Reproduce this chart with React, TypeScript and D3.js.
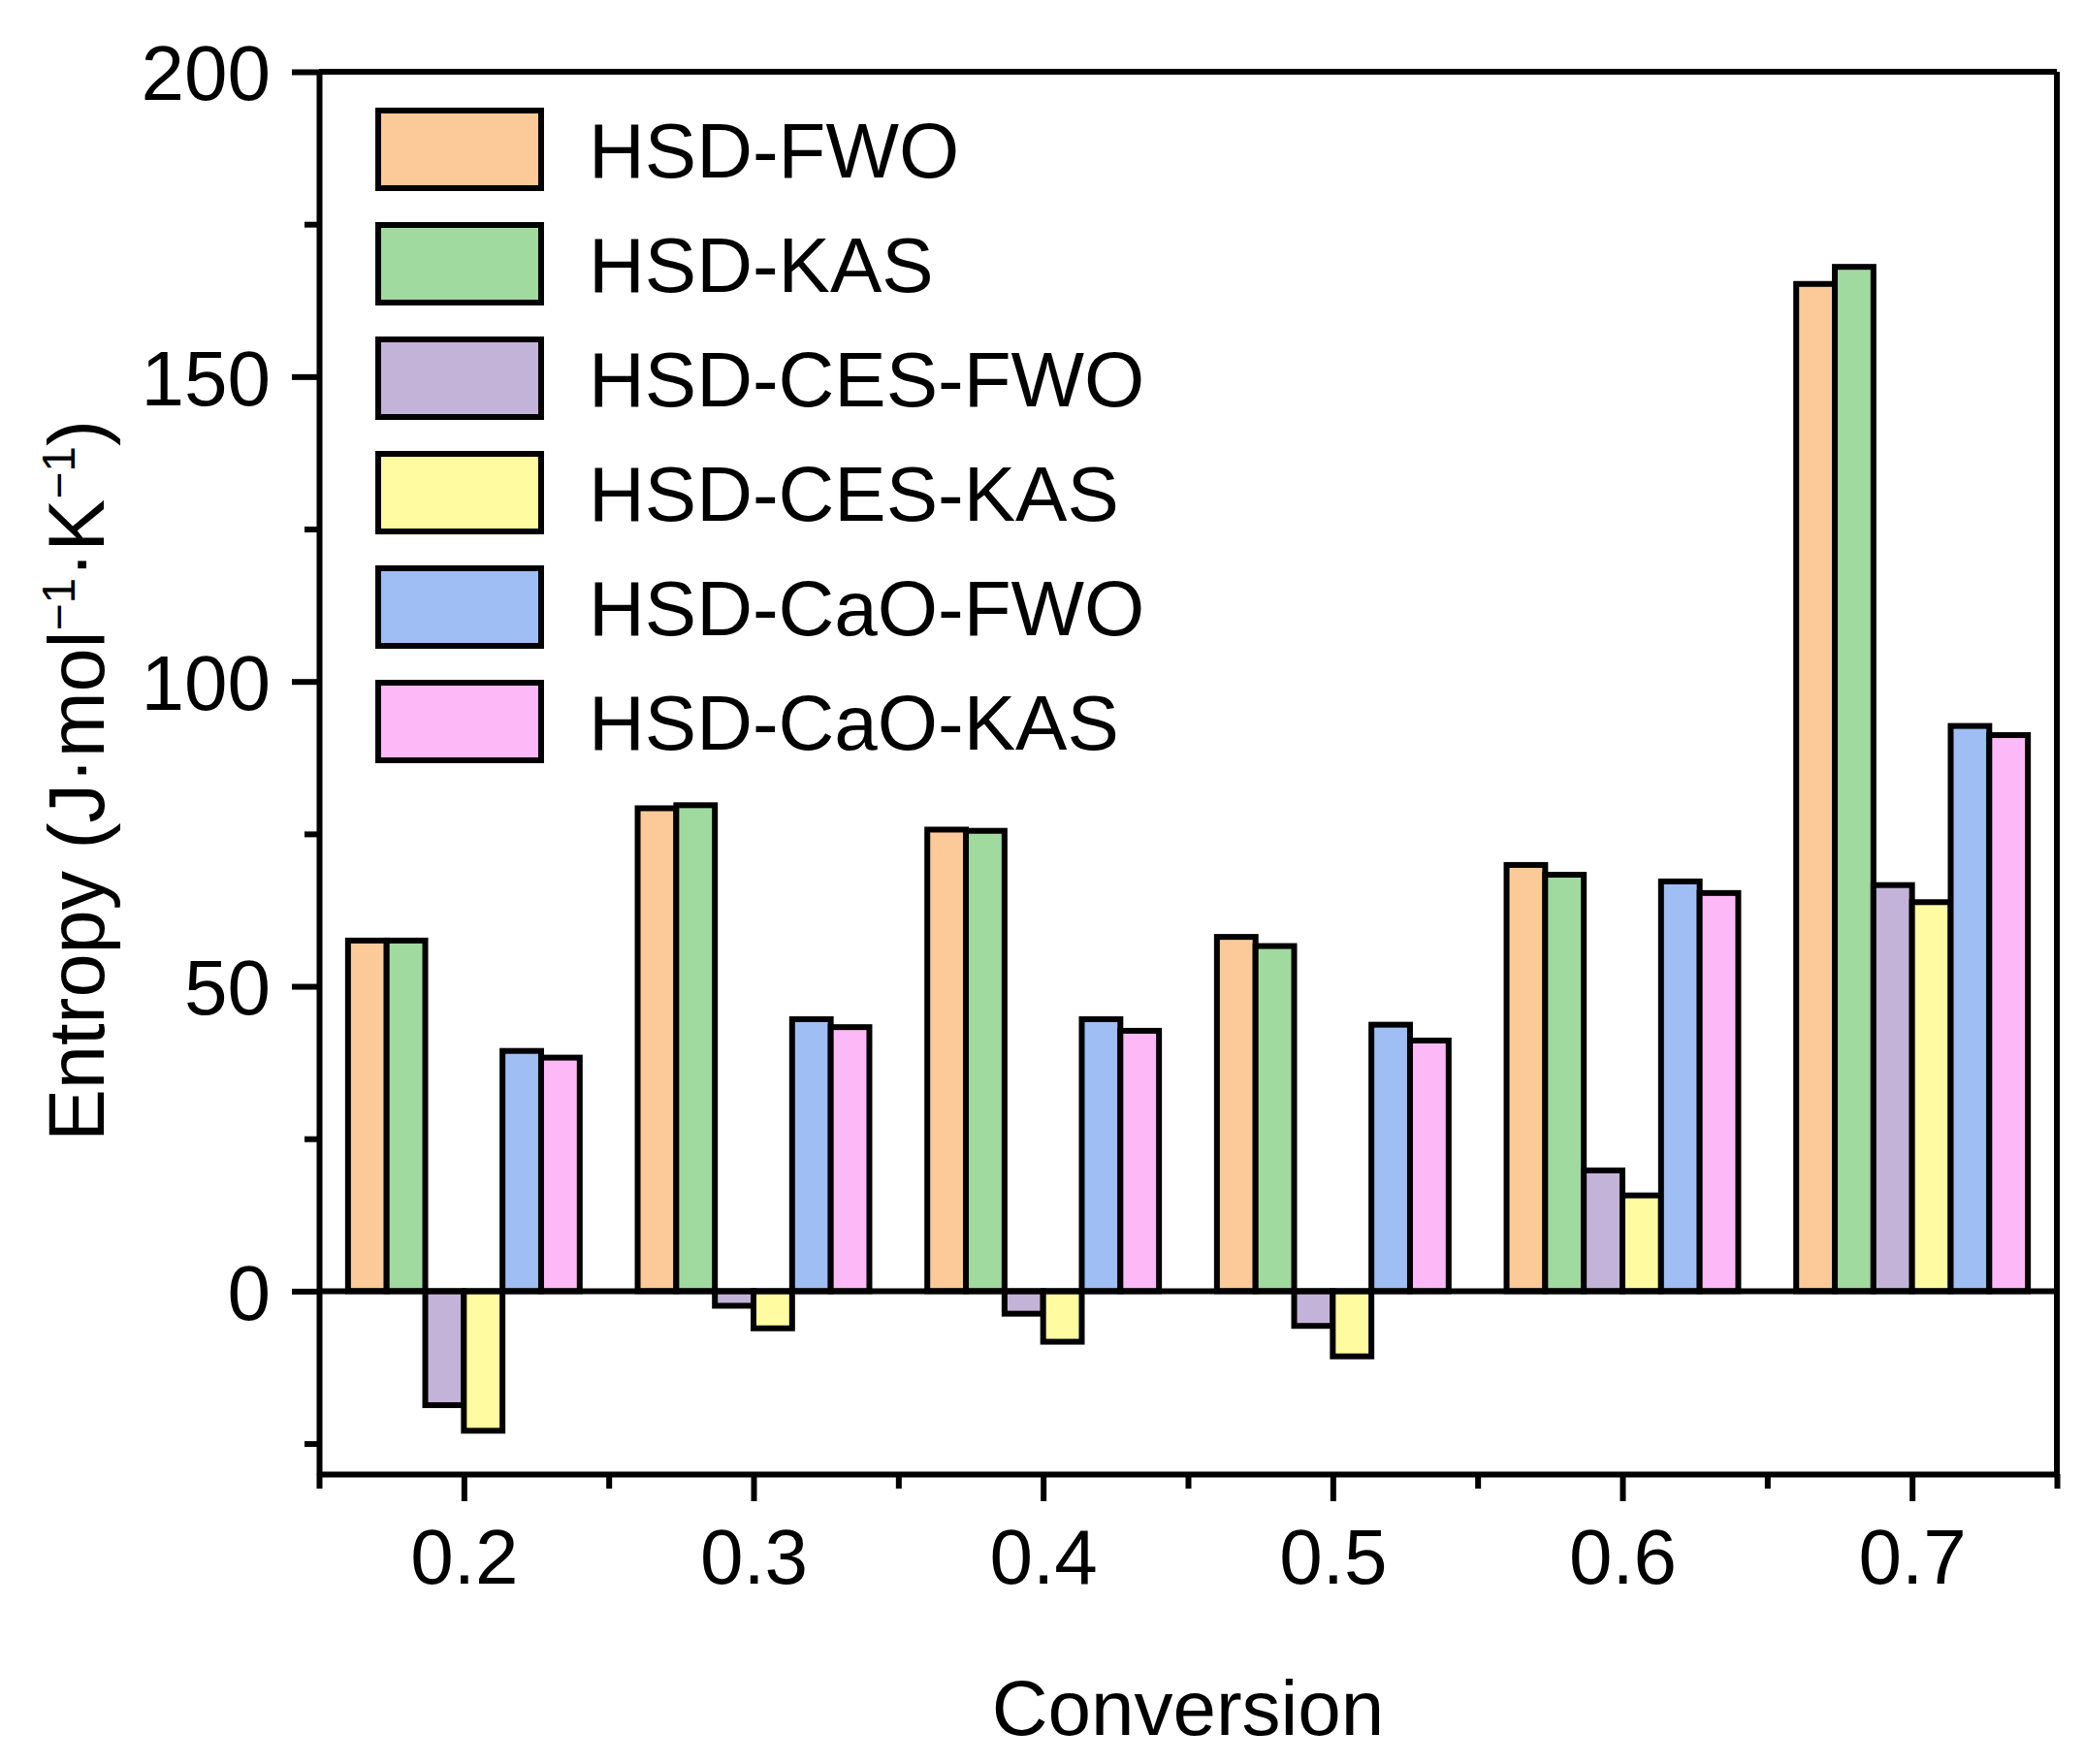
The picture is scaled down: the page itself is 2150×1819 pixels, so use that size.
import React, { useRef, useEffect } from 'react';
import * as d3 from 'd3';

const conversions = [0.2, 0.3, 0.4, 0.5, 0.6, 0.7];
const seriesNames = ['HSD-FWO', 'HSD-KAS', 'HSD-CES-FWO', 'HSD-CES-KAS', 'HSD-CaO-FWO', 'HSD-CaO-KAS'];
const seriesColors = ['#FBCA98', '#A0DA9E', '#C4B3D8', '#FEFBA0', '#9EBEF4', '#FDB9F7'];

const hsdFwo = [57.5, 79.2, 75.7, 58.1, 69.9, 165.2];
const hsdKas = [57.5, 79.7, 75.5, 56.6, 68.3, 168.0];
const cesFwo = [-18.7, -2.4, -3.7, -5.7, 19.8, 66.6];
const cesKas = [-22.9, -6.1, -8.3, -10.7, 15.7, 63.8];
const caoFwo = [39.4, 44.6, 44.6, 43.7, 67.2, 92.7];
const caoKas = [38.3, 43.3, 42.7, 41.1, 65.3, 91.2];
const seriesValues = [hsdFwo, hsdKas, cesFwo, cesKas, caoFwo, caoKas];

const yMajorTicks = [0, 50, 100, 150, 200];
const yMinorTicks = [-25, 25, 75, 125, 175];
const xMinorTicks = [0.15, 0.25, 0.35, 0.45, 0.55, 0.65, 0.75];

const WIDTH = 2150;
const HEIGHT = 1819;
const FONT = 'Arial, "Liberation Sans", sans-serif';

const App: React.FC = () => {
  const svgRef = useRef<SVGSVGElement>(null);

  useEffect(() => {
    const root = d3.select(svgRef.current);
    root.selectAll('*').remove();
    root.attr('width', WIDTH).attr('height', HEIGHT);

    const left = 329, right = 2121, top = 74, bottom = 1520;

    const x = d3.scaleLinear().domain([0.15, 0.75]).range([left, right]);
    const y = d3.scaleLinear().domain([-30, 200]).range([bottom, top]);
    const inner = d3.scaleBand<string>().domain(seriesNames).range([-0.04, 0.04]);

    const svg = root.append('g');

    // bars
    seriesNames.forEach((name, si) => {
      svg.append('g')
        .selectAll('rect')
        .data(conversions.map((c, i) => ({ c, v: seriesValues[si][i] })))
        .enter()
        .append('rect')
        .attr('x', d => x(d.c + inner(name)!))
        .attr('width', d => x(d.c + inner(name)! + inner.bandwidth()) - x(d.c + inner(name)!))
        .attr('y', d => y(Math.max(0, d.v)))
        .attr('height', d => Math.abs(y(d.v) - y(0)))
        .attr('fill', seriesColors[si])
        .attr('stroke', '#000')
        .attr('stroke-width', 6);
    });

    // zero line
    svg.append('line')
      .attr('x1', left).attr('x2', right)
      .attr('y1', y(0)).attr('y2', y(0))
      .attr('stroke', '#000').attr('stroke-width', 6);

    // frame
    svg.append('line').attr('x1', left).attr('x2', right).attr('y1', top).attr('y2', top)
      .attr('stroke', '#000').attr('stroke-width', 6);
    svg.append('line').attr('x1', right).attr('x2', right).attr('y1', top).attr('y2', bottom)
      .attr('stroke', '#000').attr('stroke-width', 6);

    const styleAxis = (g: d3.Selection<SVGGElement, unknown, null, undefined>) => {
      g.select('.domain').attr('stroke-width', 6);
      g.selectAll('.tick line').attr('stroke-width', 6);
      g.selectAll('.tick text').attr('font-family', FONT).attr('font-size', 80).attr('fill', '#000');
    };

    // y axis
    const yAxis = svg.append('g')
      .attr('transform', `translate(${left},0)`)
      .call(d3.axisLeft(y).tickValues(yMajorTicks).tickSize(28).tickPadding(22).tickSizeOuter(0).tickFormat(d3.format('d')));
    styleAxis(yAxis);
    yAxis.selectAll('.tick text').attr('dy', '0.36em');
    svg.append('g')
      .attr('transform', `translate(${left},0)`)
      .call(d3.axisLeft(y).tickValues(yMinorTicks).tickSize(15).tickSizeOuter(0).tickFormat(() => ''))
      .call(g => g.select('.domain').remove())
      .call(g => g.selectAll('.tick line').attr('stroke-width', 6));

    // x axis
    const xAxis = svg.append('g')
      .attr('transform', `translate(0,${bottom})`)
      .call(d3.axisBottom(x).tickValues(conversions).tickSize(28).tickPadding(28).tickSizeOuter(0).tickFormat(d3.format('.1f')));
    styleAxis(xAxis);
    svg.append('g')
      .attr('transform', `translate(0,${bottom})`)
      .call(d3.axisBottom(x).tickValues(xMinorTicks).tickSize(15).tickSizeOuter(0).tickFormat(() => ''))
      .call(g => g.select('.domain').remove())
      .call(g => g.selectAll('.tick line').attr('stroke-width', 6));

    // axis titles
    svg.append('text')
      .attr('x', (left + right) / 2)
      .attr('y', 1789)
      .attr('text-anchor', 'middle')
      .attr('font-family', FONT)
      .attr('font-size', 80)
      .text('Conversion');

    const yTitle = svg.append('text')
      .attr('transform', `translate(107,${(top + bottom) / 2 + 8}) rotate(-90)`)
      .attr('text-anchor', 'middle')
      .attr('font-family', FONT)
      .attr('font-size', 81);
    yTitle.append('tspan').text('Entropy (J·mol');
    yTitle.append('tspan').attr('font-size', 48).attr('dy', -30).text('−1');
    yTitle.append('tspan').attr('dy', 30).text('·K');
    yTitle.append('tspan').attr('font-size', 48).attr('dy', -30).text('−1');
    yTitle.append('tspan').attr('dy', 30).text(')');

    // legend
    const legend = svg.append('g').attr('transform', 'translate(390,114)');
    seriesNames.forEach((name, i) => {
      const row = legend.append('g').attr('transform', `translate(0,${i * 118})`);
      row.append('rect')
        .attr('width', 168).attr('height', 80)
        .attr('fill', seriesColors[i])
        .attr('stroke', '#000').attr('stroke-width', 6);
      row.append('text')
        .attr('x', 217).attr('y', 69)
        .attr('font-family', FONT)
        .attr('font-size', 80)
        .text(name);
    });
  }, []);

  return <svg ref={svgRef} style={{ position: 'absolute', left: 0, top: 0 }}></svg>;
};

export default App;
